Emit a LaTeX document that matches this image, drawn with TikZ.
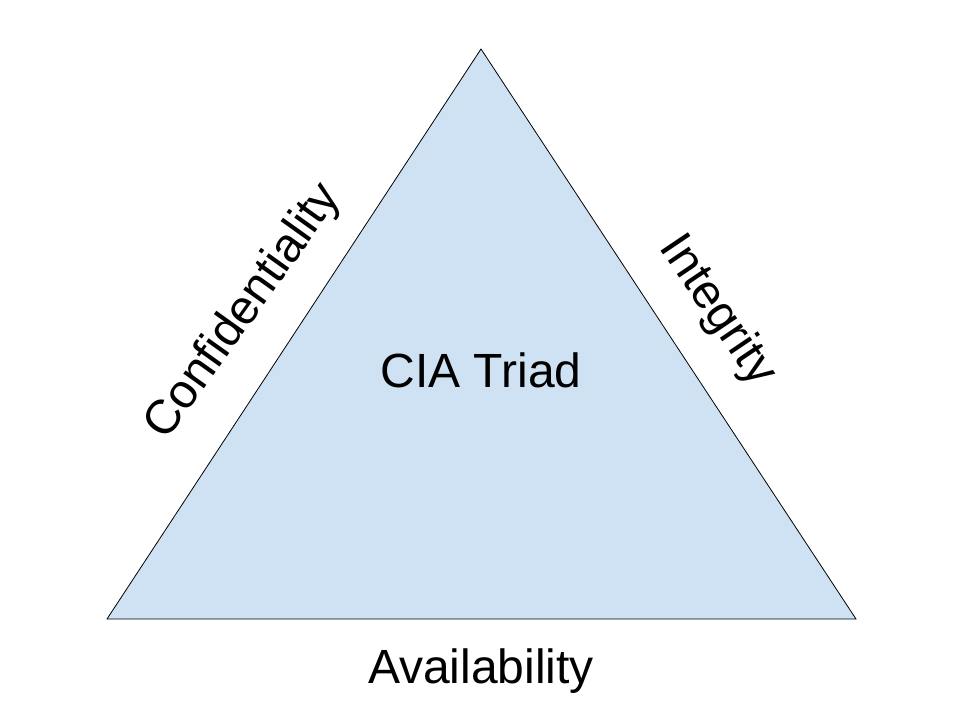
\documentclass[tikz,border=0pt]{standalone}
\usepackage{fontspec}
\setmainfont{Liberation Sans}
\definecolor{triblue}{HTML}{CFE2F3}
\begin{document}
\begin{tikzpicture}[x=1pt,y=-1pt,
  lbl/.style={inner sep=0pt,font=\fontsize{48}{50}\selectfont}]
\useasboundingbox (0,0) rectangle (960,720);
\coordinate (top) at (481,49);
\coordinate (bl) at (107,619);
\coordinate (br) at (856,619);
\filldraw[fill=triblue,draw=black,line width=0.8pt,line join=miter] (top) -- (bl) -- (br) -- cycle;
\node[lbl] (cia) at (481,370) {CIA Triad};
\node[lbl] (avail) at (481,671) {Availability};
\node[lbl,rotate=54.5] (conf) at (244,312) {Confidentiality};
\node[lbl,rotate=-56] (integ) at (717,311) {Integrity};
\end{tikzpicture}
\end{document}
